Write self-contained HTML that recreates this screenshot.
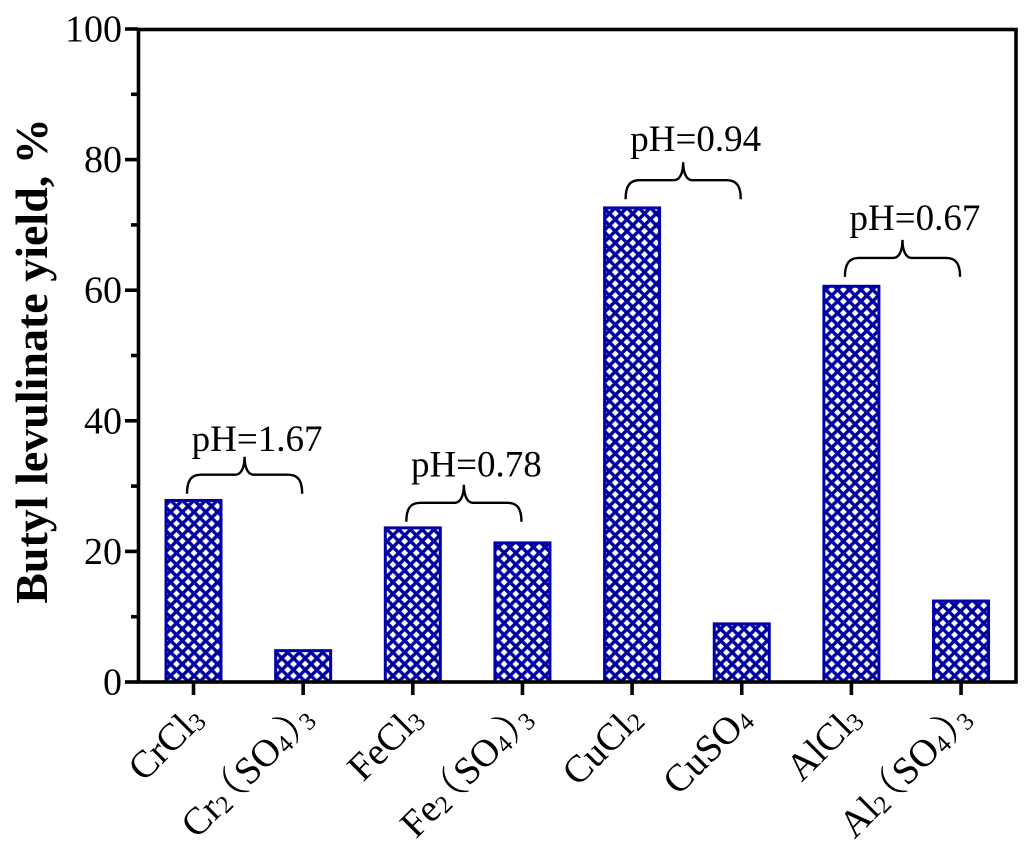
<!DOCTYPE html>
<html>
<head>
<meta charset="utf-8">
<style>
html,body{margin:0;padding:0;background:#fff;}
svg{display:block;}
text{font-family:"Liberation Serif","Noto Serif CJK SC",serif;fill:#000;}
</style>
</head>
<body>
<svg id="chart" width="1024" height="853" viewBox="0 0 1024 853" xmlns="http://www.w3.org/2000/svg">
<defs>
<pattern id="hatch" patternUnits="userSpaceOnUse" width="11.7" height="11.7" patternTransform="translate(1 3)">
<rect width="11.7" height="11.7" fill="#fff"/>
<path d="M-3 3L3 -3M0 11.7L11.7 0M8.7 14.7L14.7 8.7M-3 8.7L3 14.7M0 0L11.7 11.7M8.7 -3L14.7 3" stroke="#0000a0" stroke-width="3.4" fill="none"/>
</pattern>
</defs>
<g id="bars"></g>
<rect x="138.5" y="29.5" width="877.5" height="652.5" fill="none" stroke="#000" stroke-width="3.6"/>
<g id="axes"></g>
<g id="notes"></g>
<text transform="translate(47,361) rotate(-90)" text-anchor="middle" font-size="46" font-weight="bold">Butyl levulinate yield, %</text>
</svg>
<script>
var categories = [
  [["Cr",0],["Cl",0],["3",1]],
  [["Cr",0],["2",1],["（",2],["SO",0],["4",1],["）",0],["3",3]],
  [["Fe",0],["Cl",0],["3",1]],
  [["Fe",0],["2",1],["（",2],["SO",0],["4",1],["）",0],["3",3]],
  [["Cu",0],["Cl",0],["2",1]],
  [["CuSO",0],["4",1]],
  [["Al",0],["Cl",0],["3",1]],
  [["Al",0],["2",1],["（",2],["SO",0],["4",1],["）",0],["3",3]]
];
var categoryKeys = ["crcl3","cr2so43","fecl3","fe2so43","cucl2","cuso4","alcl3","al2so43"];
var yields = [27.8, 4.8, 23.6, 21.3, 72.6, 8.9, 60.6, 12.4];
var yMajorTicks = [0, 20, 40, 60, 80, 100];
var yMinorTicks = [10, 30, 50, 70, 90];
var phLabels = ["pH=1.67", "pH=0.78", "pH=0.94", "pH=0.67"];
var phGroups = [0, 2, 4, 6];
var phValues = [34.5, 30.2, 79.6, 67.7];
var phLabelValues = [35.4, 31.5, 81.3, 69.2];

var NS = "http://www.w3.org/2000/svg";
function xScale(i) { return 193.5 + i * 109.65; }
function yScale(v) { return 682 - v * 6.53; }
function make(tag, attrs, parent) {
  var el = document.createElementNS(NS, tag);
  for (var k in attrs) el.setAttribute(k, attrs[k]);
  parent.appendChild(el);
  return el;
}
var barsG = document.getElementById("bars");
var axesG = document.getElementById("axes");
var notesG = document.getElementById("notes");
var barWidth = 55;

yields.forEach(function (v, i) {
  var r = make("rect", {x: xScale(i) - barWidth / 2, y: yScale(v), width: barWidth, height: 682 - yScale(v), fill: "url(#hatch)", stroke: "#0000a8", "stroke-width": 3}, barsG);
  
  
});

yMajorTicks.forEach(function (v) {
  var t = make("line", {x1: 125, x2: 138, y1: yScale(v), y2: yScale(v), stroke: "#000", "stroke-width": 3.6}, axesG);
  
  
  var l = make("text", {x: 122, y: yScale(v) + 12.5, "text-anchor": "end", "font-size": 38}, axesG);
  l.textContent = v;
  
  
});
yMinorTicks.forEach(function (v) {
  var t = make("line", {x1: 131, x2: 138, y1: yScale(v), y2: yScale(v), stroke: "#000", "stroke-width": 3.6}, axesG);
  
  
});
categories.forEach(function (parts, i) {
  var t = make("line", {x1: xScale(i), x2: xScale(i), y1: 682, y2: 695, stroke: "#000", "stroke-width": 3.6}, axesG);
  
  
  var hasParens = parts.length > 3;
  var l = make("text", {transform: "translate(" + (xScale(i) + (hasParens ? 17 : 12)) + "," + (hasParens ? 716 : 721) + ") rotate(-45)", "text-anchor": "end", "font-size": 38.5}, axesG);
  
  
  var shifted = false;
  parts.forEach(function (p) {
    var s = make("tspan", {}, l);
    s.textContent = p[0];
    var isSub = p[1] === 1 || p[1] === 3;
    var dy = 0;
    if (isSub) { s.setAttribute("font-size", 25); if (!shifted) dy = 3; shifted = true; }
    else if (shifted) { dy = -3; shifted = false; }
    if (dy) s.setAttribute("dy", dy);
    if (p[1] === 2) s.setAttribute("dx", -15);
    if (p[1] === 3) s.setAttribute("dx", -19);
  });
});

phGroups.forEach(function (g, i) {
  var x1 = xScale(g) - 6.5, x2 = xScale(g + 1) - 1, xm = (x1 + x2) / 2;
  var y = yScale(phValues[i]);
  var d = "M" + x1 + " " + (y + 37) + "C" + x1 + " " + (y + 24) + " " + (x1 + 4) + " " + (y + 18) + " " + (x1 + 14) + " " + (y + 18) +
          "L" + (xm - 9) + " " + (y + 18) + "C" + (xm - 4) + " " + (y + 18) + " " + xm + " " + (y + 12) + " " + xm + " " + y +
          "C" + xm + " " + (y + 12) + " " + (xm + 4) + " " + (y + 18) + " " + (xm + 9) + " " + (y + 18) +
          "L" + (x2 - 14) + " " + (y + 18) + "C" + (x2 - 4) + " " + (y + 18) + " " + x2 + " " + (y + 24) + " " + x2 + " " + (y + 37);
  var b = make("path", {d: d, fill: "none", stroke: "#000", "stroke-width": 2.4}, notesG);
  
  
  var t = make("text", {x: xm + 12.5, y: yScale(phLabelValues[i]), "text-anchor": "middle", "font-size": 37}, notesG);
  t.textContent = phLabels[i];
  
  
});
</script>
</body>
</html>
